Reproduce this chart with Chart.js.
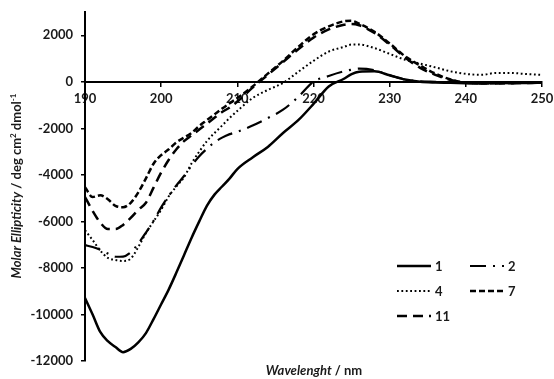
<!DOCTYPE html>
<html>
<head>
<meta charset="utf-8">
<script src="https://cdn.jsdelivr.net/npm/chart.js@4.4.1/dist/chart.umd.min.js"></script>
<style>
  html, body { margin: 0; padding: 0; background: #fff; }
</style>
</head>
<body>
<canvas id="chart-cd" width="554" height="379"></canvas>
<script>
const wavelengths = [190, 191, 192, 193, 194, 195, 196, 197, 198, 199, 200, 201, 202, 203, 204, 205, 206, 207, 208, 209, 210,
    212, 214, 216, 218, 220, 222, 224, 225, 226, 228, 230, 232, 234, 236, 238, 240, 242, 244, 246, 248, 250];

const serie1 = [-9290, -10000, -10750, -11150, -11400, -11620, -11480, -11200, -10800, -10200, -9560, -8920, -8200, -7450, -6700, -6000, -5330, -4850, -4500, -4150, -3750,
    -3250, -2800, -2200, -1650, -950, -200, 130, 330, 430, 450, 280, 100, 0, -30, -40, -60, -70, -50, -60, -50, -40];
const serie2 = [-7020, -7100, -7220, -7380, -7520, -7510, -7330, -6950, -6480, -5980, -5400, -4900, -4450, -4050, -3600, -3200, -2880, -2600, -2400, -2250, -2150,
    -1880, -1560, -1200, -650, 0, 250, 450, 520, 570, 500, 280, 100, 20, 0, -20, -40, -50, -40, -40, -30, -30];
const serie4 = [-6380, -6800, -7250, -7570, -7660, -7700, -7600, -7100, -6500, -6000, -5500, -4920, -4500, -4100, -3500, -3000, -2550, -2200, -1880, -1550, -1250,
    -700, -350, -50, 430, 900, 1300, 1500, 1600, 1600, 1450, 1200, 950, 780, 620, 450, 340, 300, 380, 380, 330, 300];
const serie7 = [-4530, -4950, -4880, -5050, -5330, -5390, -5200, -4750, -4150, -3520, -3150, -2900, -2600, -2400, -2200, -1900, -1650, -1400, -1150, -920, -700,
    -200, 350, 900, 1500, 2040, 2380, 2600, 2620, 2500, 2150, 1650, 1100, 700, 350, 100, -30, -60, -60, -50, -40, -40];
const serie11 = [-4950, -5550, -6050, -6330, -6330, -6150, -5850, -5500, -5200, -4550, -3900, -3350, -2900, -2550, -2300, -2050, -1800, -1550, -1300, -1100, -850,
    -250, 300, 850, 1400, 1900, 2250, 2450, 2480, 2430, 2100, 1600, 1050, 600, 300, 80, -40, -60, -70, -60, -50, -40];

const seriesLabels = ['1', '2', '4', '7', '11'];
const xTicks = [190, 200, 210, 220, 230, 240, 250];
const yTicks = [-12000, -10000, -8000, -6000, -4000, -2000, 0, 2000];

const FONT = 'Lato';
const TXT = '#1a1a1a';

function toPoints(values) {
    return wavelengths.map((w, i) => ({ x: w, y: values[i] }));
}

// Styles des traits
const lineStyles = [
    { dash: [], width: 2.5 },
    { dash: [16, 7, 2, 7], width: 2.2 },
    { dash: [1.8, 2.6], width: 2 },
    { dash: [6, 3], width: 2.5 },
    { dash: [10, 6], width: 2.5 }
];
const allSeries = [serie1, serie2, serie4, serie7, serie11];

// Légende maison (2 colonnes dans la zone du graphique)
const legendSpots = [[397, 266], [470, 266], [397, 291], [470, 291], [397, 316]];
const legendPlugin = {
    id: 'legendCD',
    afterDraw(chart) {
        const ctx = chart.ctx;
        ctx.save();
        chart.data.datasets.forEach((ds, i) => {
            const [x, y] = legendSpots[i];
            ctx.strokeStyle = '#000';
            ctx.lineWidth = ds.borderWidth;
            ctx.setLineDash(ds.borderDash || []);
            ctx.beginPath();
            ctx.moveTo(x, y);
            ctx.lineTo(x + 34, y);
            ctx.stroke();
            ctx.setLineDash([]);
            ctx.fillStyle = TXT;
            ctx.font = 'bold 13px ' + FONT;
            ctx.textBaseline = 'middle';
            ctx.fillText(ds.label, x + 38, y + 1);
        });
        ctx.restore();
    }
};

// Titres des axes (italique + normal)
function drawParts(ctx, parts, cx, cy) {
    let total = 0;
    parts.forEach(p => { ctx.font = p[0]; total += ctx.measureText(p[1]).width; });
    let x = cx - total / 2;
    parts.forEach(p => {
        ctx.font = p[0];
        ctx.fillText(p[1], x, cy + (p[2] || 0));
        x += ctx.measureText(p[1]).width;
    });
}
const titlesPlugin = {
    id: 'axisTitles',
    afterDraw(chart) {
        const ctx = chart.ctx;
        ctx.save();
        ctx.fillStyle = TXT;
        ctx.textBaseline = 'middle';
        drawParts(ctx, [
            ['italic bold 13px ' + FONT, 'Wavelenght'],
            ['bold 13px ' + FONT, ' / nm']
        ], 314, 371);
        ctx.translate(17, 186);
        ctx.rotate(-Math.PI / 2);
        drawParts(ctx, [
            ['italic bold 13px ' + FONT, 'Molar Ellipticity'],
            ['bold 13px ' + FONT, ' / deg cm'],
            ['bold 8px ' + FONT, '2', -4],
            ['bold 13px ' + FONT, ' dmol'],
            ['bold 8px ' + FONT, '-1', -4]
        ], 0, 0);
        ctx.restore();
    }
};

const ctx = document.getElementById('chart-cd');
new Chart(ctx, {
    type: 'line',
    data: {
        datasets: allSeries.map((s, i) => ({
            label: seriesLabels[i],
            data: toPoints(s),
            borderColor: '#000',
            borderWidth: lineStyles[i].width,
            borderDash: lineStyles[i].dash,
            pointRadius: 0,
            fill: false,
            cubicInterpolationMode: 'monotone'
        }))
    },
    options: {
        responsive: false,
        animation: false,
        layout: { padding: { left: 0, top: 12, right: 12, bottom: 18 } },
        plugins: {
            legend: { display: false },
            tooltip: { enabled: false }
        },
        scales: {
            x: {
                type: 'linear',
                position: { y: 0 },
                min: 190,
                max: 250,
                afterBuildTicks: scale => { scale.ticks = xTicks.map(v => ({ value: v })); },
                afterFit: scale => { scale.paddingLeft = 0; scale.paddingRight = 0; },
                grid: { drawOnChartArea: false, color: '#000', lineWidth: 1.5, tickLength: 4 },
                border: { color: '#000', width: 2 },
                ticks: { color: TXT, font: { family: FONT, size: 13, weight: 'bold' }, padding: 5, maxRotation: 0,
                    callback: v => String(v) }
            },
            y: {
                min: -12000,
                max: 3000,
                afterBuildTicks: scale => { scale.ticks = yTicks.map(v => ({ value: v })); },
                afterFit: scale => { scale.width = 85; scale.paddingTop = 0; scale.paddingBottom = 0; },
                grid: { drawOnChartArea: false, color: '#000', lineWidth: 1.5, tickLength: 4 },
                border: { color: '#000', width: 2 },
                ticks: { color: TXT, font: { family: FONT, size: 13, weight: 'bold' }, padding: 8,
                    callback: v => String(v) }
            }
        }
    },
    plugins: [legendPlugin, titlesPlugin]
});
</script>
</body>
</html>
